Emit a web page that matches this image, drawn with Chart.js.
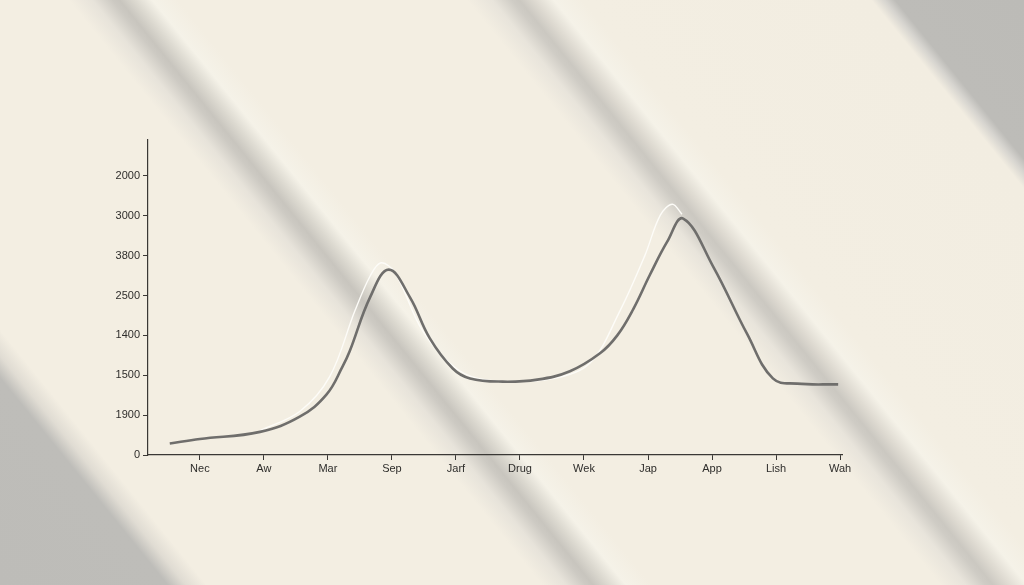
<!DOCTYPE html>
<html>
<head>
<meta charset="utf-8">
<script src="https://cdn.jsdelivr.net/npm/chart.js@4.4.1/dist/chart.umd.min.js"></script>
<style>
  html, body { margin: 0; padding: 0; }
  body {
    width: 1024px; height: 585px; overflow: hidden;
    background: linear-gradient(51deg,
      #bdbcb8 0%, #bebdb9 11.2%, #e0dcd3 12.4%, #f3eee2 13.8%,
      #f3eee2 36.2%, #e7e3da 37.8%, #cdcac3 39.1%, #c8c5be 39.6%, #dcd9d0 40.6%, #f5f2e8 41.8%, #f3eee2 43.5%,
      #f3eee2 62.8%, #e8e4db 64.5%, #cfccc5 65.8%, #cbc8c1 66.3%, #dedad1 67.3%, #f5f2e8 68.6%, #f3eee2 70.5%,
      #f2ede1 89.8%, #d6d4cf 90.7%, #bdbcb8 91.4%, #bcbbb7 100%);
  }
  #wrap { position: absolute; left: 0; top: 0; width: 1024px; height: 585px; }
</style>
</head>
<body>
<div id="wrap"><canvas id="myChart" width="1024" height="585"></canvas></div>
<script>
// x axis labels and y tick labels
let xLabels = ['Nec', 'Aw', 'Mar', 'Sep', 'Jarf', 'Drug', 'Wek', 'Jap', 'App', 'Lish', 'Wah'];
let yLabels = ['0', '1900', '1500', '1400', '2500', '3800', '3000', '2000'];

// dark curve (position in label steps, height in tick steps)
let grayX = [-0.47, 0, 0.94, 1.56, 1.98, 2.23, 2.34, 2.66, 2.95, 3.28, 3.59, 3.95, 4.22, 4.73, 5.27, 5.78, 6.25, 6.52, 6.77, 7.03, 7.30, 7.55, 8.02, 8.55, 8.95, 9.33, 9.97];
let grayY = [0.29, 0.40, 0.58, 0.96, 1.52, 2.22, 2.60, 3.96, 4.65, 3.96, 2.93, 2.17, 1.92, 1.84, 1.89, 2.10, 2.55, 3.00, 3.66, 4.52, 5.35, 5.93, 4.72, 3.03, 1.92, 1.79, 1.77];

// faint white curve
let whiteX = [0.94, 1.56, 2.03, 2.42, 2.66, 2.83, 3.05, 3.48, 4.02, 4.53, 5.52, 6.09, 6.56, 6.95, 7.19, 7.38, 7.53];
let whiteY = [0.61, 1.09, 1.97, 3.61, 4.49, 4.82, 4.57, 3.11, 2.15, 1.87, 1.92, 2.30, 3.61, 5.00, 6.01, 6.29, 6.04];

function points(xs, ys) {
    return xs.map((x, i) => ({ x: x, y: ys[i] }));
}

let axisFont = { family: "'Liberation Sans', Arial, sans-serif", size: 11 };

let ctx = document.getElementById('myChart').getContext('2d');

let myChart = new Chart(ctx, {
    type: 'line',
    data: {
        datasets: [
            {
                data: points(grayX, grayY),
                borderColor: '#6f6e6c',
                borderWidth: 2.6,
                tension: 0.4,
                pointRadius: 0,
                fill: false,
                order: 1
            },
            {
                data: points(whiteX, whiteY),
                borderColor: '#fdfcf8',
                borderWidth: 1.4,
                tension: 0.35,
                pointRadius: 0,
                fill: false,
                order: 2
            }
        ]
    },
    options: {
        responsive: false,
        animation: false,
        layout: { padding: { left: 0, top: 140, right: 182, bottom: 0 } },
        plugins: { legend: { display: false }, tooltip: { enabled: false } },
        scales: {
            x: {
                type: 'linear',
                min: -0.81,
                max: 10.03,
                afterFit: (scale) => { scale.height = 130; },
                border: { display: true, color: '#3a3835', width: 1.2 },
                grid: { drawOnChartArea: false, drawTicks: true, tickLength: 5, color: '#3a3835', lineWidth: 1 },
                ticks: {
                    stepSize: 1,
                    includeBounds: false,
                    autoSkip: false,
                    maxRotation: 0,
                    padding: 2,
                    color: '#2e2d2b',
                    font: axisFont,
                    callback: (v) => xLabels[v] ?? ''
                }
            },
            y: {
                type: 'linear',
                min: 0,
                max: 7.9,
                afterFit: (scale) => { scale.width = 148; },
                border: { display: true, color: '#3a3835', width: 1.2 },
                grid: { drawOnChartArea: false, drawTicks: true, tickLength: 5, color: '#3a3835', lineWidth: 1 },
                ticks: {
                    stepSize: 1,
                    includeBounds: false,
                    padding: 3,
                    color: '#2e2d2b',
                    font: axisFont,
                    callback: (v) => yLabels[v] ?? ''
                }
            }
        }
    }
});
</script>
</body>
</html>
